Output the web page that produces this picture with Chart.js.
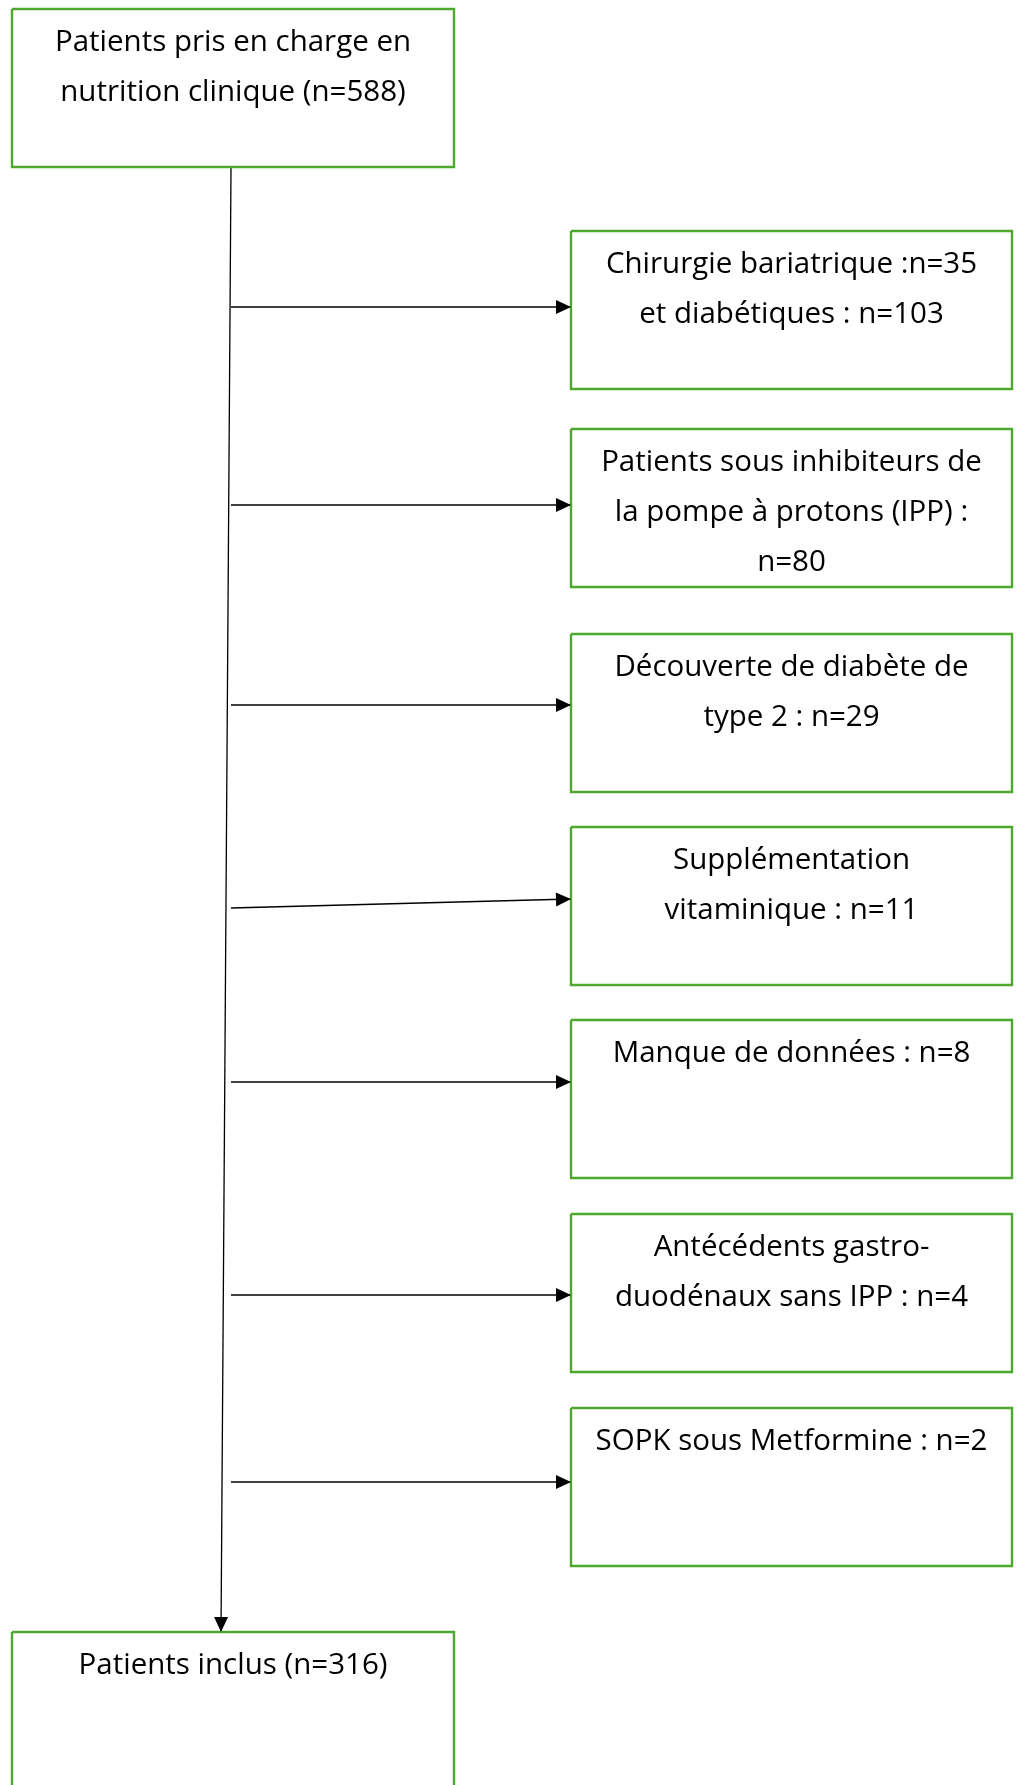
<!DOCTYPE html>
<html lang="fr">
<head>
<meta charset="utf-8">
<title>Diagramme de flux</title>
<script src="https://cdn.jsdelivr.net/npm/chart.js@4/dist/chart.umd.min.js"></script>
<style>
  html, body { margin: 0; padding: 0; background: #ffffff; }
  canvas { display: block; }
</style>
</head>
<body>
<canvas id="flowChart" width="1019" height="1785"></canvas>
<script>
// -------------------------------
// DONNÉES
// -------------------------------
const startCount = 588;
const startLines = ["Patients pris en charge en", "nutrition clinique (n=" + startCount + ")"];

const exclusionLines = [
  ["Chirurgie bariatrique :n=35", "et diabétiques : n=103"],
  ["Patients sous inhibiteurs de", "la pompe à protons (IPP) :", "n=80"],
  ["Découverte de diabète de", "type 2 : n=29"],
  ["Supplémentation", "vitaminique : n=11"],
  ["Manque de données : n=8"],
  ["Antécédents gastro-", "duodénaux sans IPP : n=4"],
  ["SOPK sous Metformine : n=2"]
];
const exclusionCounts = [138, 80, 29, 11, 8, 4, 2];

const includedCount = startCount - exclusionCounts.reduce((a, b) => a + b, 0);
const endLines = ["Patients inclus (n=" + includedCount + ")"];

// -------------------------------
// MISE EN PAGE (pixels de la page)
// -------------------------------
const W = 1019, H = 1785;
const GREEN = "#4EA72E";
const leftBox = { x0: 12, x1: 454 };
const rightBox = { x0: 571, x1: 1012 };
const startTop = 9, startBottom = 167;
const endTop = 1632, endBottom = 1800;
const boxTops = [231, 429, 634, 827, 1020, 1214, 1408];
const boxHeight = 158;
const arrowStartY = [307, 505, 705, 908, 1082, 1295, 1482];
const arrowEndY = [307, 505, 705, 899, 1082, 1295, 1482];
const arrowStartX = 231;
const firstLineOffset = 34;
const lineGap = 50;

function rect(x0, y0, x1, y1) {
  return [
    { x: x0, y: y0 }, { x: x1, y: y0 }, { x: x1, y: y1 },
    { x: x0, y: y1 }, { x: x0, y: y0 }
  ];
}

function boxDataset(points, lines) {
  return {
    data: points,
    borderColor: GREEN,
    borderWidth: 2.4,
    pointRadius: 0,
    fill: false,
    tension: 0,
    clip: false,
    boxText: lines
  };
}

function arrowDataset(points) {
  return {
    data: points,
    borderColor: "#000000",
    borderWidth: 1.3,
    pointRadius: 0,
    fill: false,
    tension: 0,
    clip: false,
    arrow: true
  };
}

const datasets = [];
datasets.push(boxDataset(rect(leftBox.x0, startTop, leftBox.x1, startBottom), startLines));
exclusionLines.forEach((lines, i) => {
  datasets.push(boxDataset(rect(rightBox.x0, boxTops[i], rightBox.x1, boxTops[i] + boxHeight), lines));
  datasets.push(arrowDataset([
    { x: arrowStartX, y: arrowStartY[i] },
    { x: rightBox.x0, y: arrowEndY[i] }
  ]));
});
datasets.push(boxDataset(rect(leftBox.x0, endTop, leftBox.x1, endBottom), endLines));
datasets.push(arrowDataset([{ x: 231, y: startBottom + 1 }, { x: 221, y: endTop }]));

// -------------------------------
// PLUGINS : TÊTES DE FLÈCHE ET TEXTES
// -------------------------------
const arrowHeads = {
  id: "arrowHeads",
  afterDatasetsDraw(chart) {
    const ctx = chart.ctx;
    chart.data.datasets.forEach((ds, i) => {
      if (!ds.arrow) return;
      const pts = chart.getDatasetMeta(i).data;
      const a = pts[pts.length - 2], b = pts[pts.length - 1];
      const ang = Math.atan2(b.y - a.y, b.x - a.x);
      const len = 15, half = 7;
      ctx.save();
      ctx.translate(b.x, b.y);
      ctx.rotate(ang);
      ctx.beginPath();
      ctx.moveTo(0, 0);
      ctx.lineTo(-len, -half);
      ctx.lineTo(-len, half);
      ctx.closePath();
      ctx.fillStyle = "#000000";
      ctx.fill();
      ctx.restore();
    });
  }
};

const boxTexts = {
  id: "boxTexts",
  afterDatasetsDraw(chart) {
    const ctx = chart.ctx;
    const xs = chart.scales.x, ys = chart.scales.y;
    ctx.save();
    ctx.fillStyle = "#000000";
    ctx.font = "29.5px 'Open Sans'";
    ctx.textAlign = "center";
    ctx.textBaseline = "middle";
    chart.data.datasets.forEach((ds) => {
      if (!ds.boxText) return;
      const cx = (ds.data[0].x + ds.data[1].x) / 2;
      const top = ds.data[0].y;
      ds.boxText.forEach((line, k) => {
        ctx.fillText(line, xs.getPixelForValue(cx), ys.getPixelForValue(top + firstLineOffset + k * lineGap));
      });
    });
    ctx.restore();
  }
};

new Chart(document.getElementById("flowChart"), {
  type: "line",
  data: { datasets: datasets },
  options: {
    responsive: false,
    animation: false,
    events: [],
    layout: { padding: 0 },
    plugins: { legend: { display: false }, tooltip: { enabled: false } },
    scales: {
      x: { type: "linear", min: 0, max: W, display: false },
      y: { type: "linear", min: 0, max: H, reverse: true, display: false }
    }
  },
  plugins: [arrowHeads, boxTexts]
});
</script>
</body>
</html>
